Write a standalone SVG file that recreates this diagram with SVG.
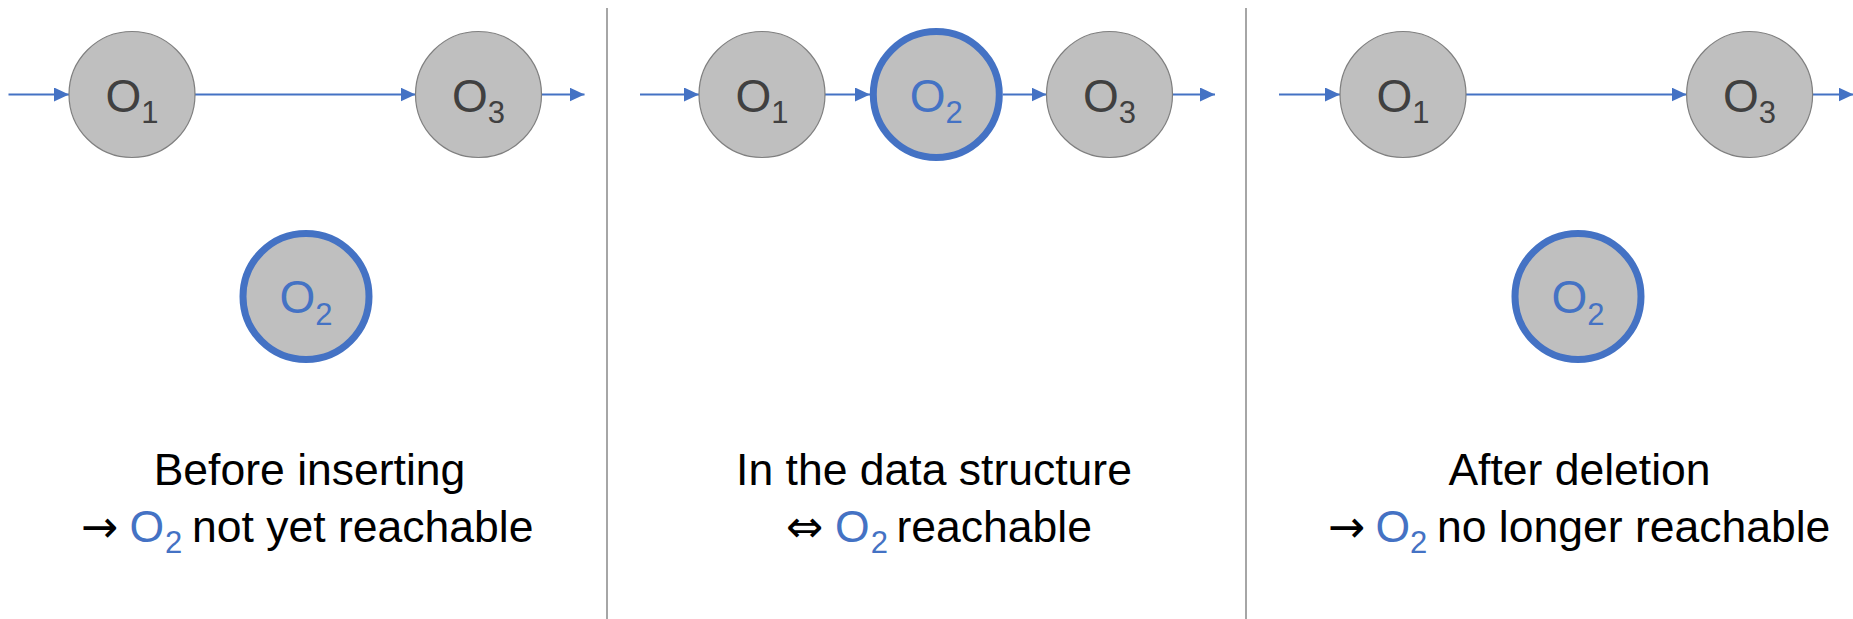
<svg xmlns="http://www.w3.org/2000/svg" width="1853" height="619" viewBox="0 0 1853 619">
  <style>
    .node { fill: #BFBFBF; stroke: #7F7F7F; stroke-width: 1.2; }
    .node-hl { fill: #BFBFBF; stroke: #4472C4; stroke-width: 7; }
    .lbl { font-family: "Liberation Sans", Arial, sans-serif; font-size: 46px; fill: #404040; text-anchor: middle; }
    .lbl-hl { fill: #4472C4; }
    .sub { font-size: 31px; }
    .edge { stroke: #4472C4; stroke-width: 1.8; fill: none; marker-end: url(#arrow); }
    .divider { stroke: #A6A6A6; stroke-width: 2; }
    .caption { font-family: "Liberation Sans", "DejaVu Sans", Arial, sans-serif; font-size: 44.5px; fill: #000000; }
    .sym { font-family: "DejaVu Sans", sans-serif; }
    .mid { text-anchor: middle; }
    .blue { fill: #4472C4; }
  </style>
  <defs>
    <marker id="arrow" markerUnits="userSpaceOnUse" markerWidth="16" markerHeight="15" refX="15" refY="7" orient="auto">
      <path d="M0,0 L15,7 L0,14 Z" fill="#4472C4"/>
    </marker>
  </defs>

  <rect width="1853" height="619" fill="#FFFFFF"/>

  <!-- panel separators -->
  <g id="dividers">
    <line class="divider" x1="607" y1="8" x2="607" y2="619"/>
    <line class="divider" x1="1246" y1="8" x2="1246" y2="619"/>
  </g>

  <!-- list links -->
  <g id="connectors">
    <line class="edge" x1="8.5" y1="94.5" x2="69" y2="94.5"/>
    <line class="edge" x1="195" y1="94.5" x2="415.5" y2="94.5"/>
    <line class="edge" x1="541.5" y1="94.5" x2="584.5" y2="94.5"/>

    <line class="edge" x1="640" y1="94.5" x2="699" y2="94.5"/>
    <line class="edge" x1="825" y1="94.5" x2="870" y2="94.5"/>
    <line class="edge" x1="1002.8" y1="94.5" x2="1046.5" y2="94.5"/>
    <line class="edge" x1="1172.5" y1="94.5" x2="1215" y2="94.5"/>

    <line class="edge" x1="1279" y1="94.5" x2="1340" y2="94.5"/>
    <line class="edge" x1="1466" y1="94.5" x2="1686.6" y2="94.5"/>
    <line class="edge" x1="1812.6" y1="94.5" x2="1853.5" y2="94.5"/>
  </g>

  <!-- panel 1: before inserting -->
  <g id="p1-o1">
    <circle class="node" cx="132" cy="94.5" r="63"/>
    <text class="lbl" x="132" y="111.5">O<tspan class="sub" dy="11">1</tspan></text>
  </g>
  <g id="p1-o3">
    <circle class="node" cx="478.5" cy="94.5" r="63"/>
    <text class="lbl" x="478.5" y="111.5">O<tspan class="sub" dy="11">3</tspan></text>
  </g>
  <g id="p1-o2">
    <circle class="node-hl" cx="306" cy="296.5" r="63"/>
    <text class="lbl lbl-hl" x="306" y="313">O<tspan class="sub" dy="11.5">2</tspan></text>
  </g>

  <!-- panel 2: in the data structure -->
  <g id="p2-o1">
    <circle class="node" cx="762" cy="94.5" r="63"/>
    <text class="lbl" x="762" y="111.5">O<tspan class="sub" dy="11">1</tspan></text>
  </g>
  <g id="p2-o2">
    <circle class="node-hl" cx="936.3" cy="94.5" r="63"/>
    <text class="lbl lbl-hl" x="936.3" y="111.5">O<tspan class="sub" dy="11">2</tspan></text>
  </g>
  <g id="p2-o3">
    <circle class="node" cx="1109.5" cy="94.5" r="63"/>
    <text class="lbl" x="1109.5" y="111.5">O<tspan class="sub" dy="11">3</tspan></text>
  </g>

  <!-- panel 3: after deletion -->
  <g id="p3-o1">
    <circle class="node" cx="1403" cy="94.5" r="63"/>
    <text class="lbl" x="1403" y="111.5">O<tspan class="sub" dy="11">1</tspan></text>
  </g>
  <g id="p3-o3">
    <circle class="node" cx="1749.6" cy="94.5" r="63"/>
    <text class="lbl" x="1749.6" y="111.5">O<tspan class="sub" dy="11">3</tspan></text>
  </g>
  <g id="p3-o2">
    <circle class="node-hl" cx="1578" cy="296.5" r="63"/>
    <text class="lbl lbl-hl" x="1578" y="313">O<tspan class="sub" dy="11.5">2</tspan></text>
  </g>

  <!-- captions -->
  <g id="captions">
    <text class="caption mid" x="309.5" y="484.5">Before inserting</text>
    <text class="caption" y="542"><tspan class="sym" x="81">→</tspan><tspan class="blue" x="129.5">O</tspan><tspan class="blue sub" x="165" dy="10.5">2</tspan><tspan x="192" dy="-10.5">not yet reachable</tspan></text>

    <text class="caption mid" x="934" y="484.5">In the data structure</text>
    <text class="caption" y="542"><tspan class="sym" x="786">⇔</tspan><tspan class="blue" x="835">O</tspan><tspan class="blue sub" x="870.7" dy="10.5">2</tspan><tspan x="896.5" dy="-10.5">reachable</tspan></text>

    <text class="caption mid" x="1579.5" y="484.5">After deletion</text>
    <text class="caption" y="542"><tspan class="sym" x="1328">→</tspan><tspan class="blue" x="1375.5">O</tspan><tspan class="blue sub" x="1410" dy="10.5">2</tspan><tspan x="1437" dy="-10.5">no longer reachable</tspan></text>
  </g>
</svg>
